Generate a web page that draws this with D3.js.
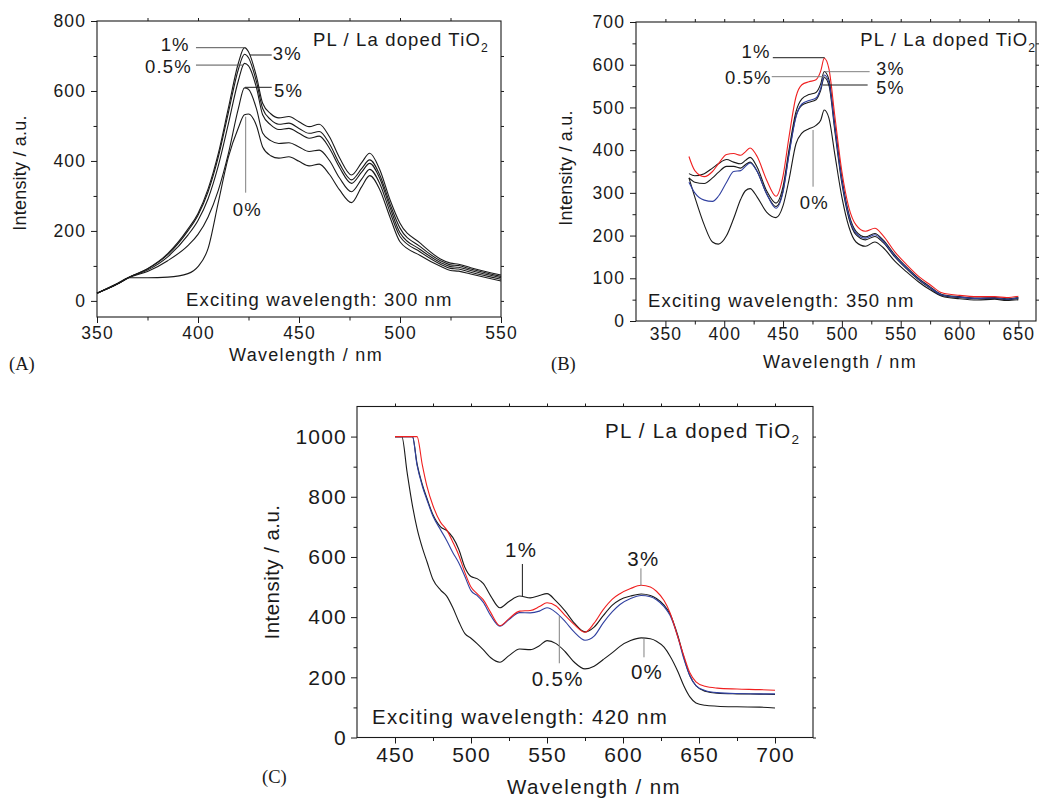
<!DOCTYPE html>
<html>
<head>
<meta charset="utf-8">
<script src="https://cdn.jsdelivr.net/npm/d3@7"></script>
<style>
  body { margin: 0; background: #fff; }
  svg text { font-family: "Liberation Sans", Arial, Helvetica, sans-serif; fill: #1a1a1a; }
</style>
</head>
<body>
<svg id="fig" width="1042" height="798"></svg>
<script>
// ---- Panel (A) : exciting wavelength 300 nm ----
var wlA = [350, 360, 366, 375, 385, 395, 400, 405, 410, 415, 420, 423, 425, 429, 432, 436, 440, 445, 450, 455, 460, 465, 470, 476, 481, 485, 490, 495, 500, 510, 520, 525, 529, 535, 550];
var a1  = [22, 48, 68, 92, 135, 205, 250, 320, 420, 550, 680, 724, 712, 640, 565, 535, 523, 527, 512, 498, 505, 470, 410, 360, 395, 422, 375, 290, 222, 165, 120, 108, 105, 95, 74];
var a3  = [22, 48, 68, 91, 132, 200, 245, 312, 410, 537, 662, 705, 695, 625, 550, 518, 505, 508, 493, 479, 484, 450, 393, 346, 378, 403, 360, 278, 208, 155, 115, 103, 101, 91, 70];
var a05 = [22, 48, 68, 88, 126, 188, 230, 292, 385, 505, 630, 679, 672, 608, 532, 503, 490, 493, 479, 465, 471, 437, 382, 336, 368, 393, 350, 268, 195, 147, 110, 98, 96, 87, 66];
var a5  = [22, 48, 67, 84, 115, 158, 190, 240, 315, 420, 550, 609, 605, 548, 480, 458, 450, 452, 440, 427, 431, 402, 352, 312, 348, 376, 335, 255, 184, 140, 105, 93, 91, 82, 62];
var a0  = [22, 50, 66, 66, 68, 78, 98, 150, 280, 410, 495, 532, 534, 500, 440, 415, 408, 412, 399, 386, 391, 362, 318, 281, 326, 358, 318, 240, 169, 130, 99, 87, 85, 77, 57];

// ---- Panel (B) : exciting wavelength 350 nm ----
var wlB = [370, 375, 383, 390, 395, 402, 408, 414, 418, 422, 428, 436, 444, 450, 455, 461, 466, 472, 478, 482, 485, 489, 494, 500, 506, 512, 520, 528, 535, 545, 555, 565, 575, 585, 600, 615, 630, 640, 650];
var b1  = [385, 352, 338, 350, 368, 390, 392, 388, 396, 405, 385, 330, 292, 340, 430, 525, 553, 560, 565, 585, 615, 590, 480, 350, 265, 225, 210, 217, 200, 162, 132, 105, 85, 66, 60, 57, 57, 55, 58];
var b3  = [345, 340, 345, 358, 368, 378, 372, 368, 376, 383, 360, 305, 276, 315, 400, 490, 520, 530, 535, 555, 584, 565, 460, 335, 250, 210, 197, 205, 190, 155, 126, 100, 80, 62, 57, 54, 55, 52, 55];
var b05 = [325, 300, 283, 280, 292, 325, 350, 352, 362, 370, 350, 298, 264, 302, 388, 478, 508, 516, 522, 545, 576, 558, 452, 328, 245, 206, 194, 202, 187, 152, 124, 98, 78, 61, 56, 53, 54, 51, 54];
var b5  = [335, 325, 322, 335, 348, 362, 362, 358, 366, 372, 350, 298, 268, 305, 392, 480, 505, 512, 518, 540, 570, 552, 445, 322, 240, 202, 190, 198, 184, 150, 122, 97, 77, 60, 55, 52, 53, 50, 53];
var b0  = [335, 290, 225, 185, 180, 200, 240, 285, 305, 310, 290, 255, 242, 270, 330, 415, 440, 450, 458, 470, 494, 475, 390, 290, 220, 185, 175, 185, 172, 140, 115, 92, 73, 58, 52, 49, 51, 48, 50];

// ---- Panel (C) : exciting wavelength 420 nm ----
var wlC = [450, 454.5, 458, 461.5, 464.5, 468, 471, 475, 480, 484, 488, 492, 496, 500, 504, 508, 513, 519, 525, 532, 539, 545, 550, 556, 562, 568, 575, 581, 587, 593, 598, 605, 612, 618, 622, 627, 631, 636, 640, 644, 648, 654, 662, 675, 690, 700];
var c0  = [1000, 1000, 880, 770, 695, 630, 585, 525, 490, 470, 432, 385, 345, 330, 312, 292, 265, 250, 272, 294, 292, 305, 322, 312, 285, 250, 228, 237, 259, 282, 303, 322, 331, 328, 320, 300, 270, 220, 172, 135, 115, 107, 104, 102, 101, 98];
var c05 = [1000, 1000, 1000, 1000, 905, 835, 790, 735, 690, 655, 615, 580, 535, 488, 472, 450, 405, 370, 392, 415, 414, 420, 431, 415, 385, 350, 323, 337, 381, 418, 442, 462, 472, 468, 458, 435, 405, 335, 262, 205, 172, 156, 149, 146, 145, 145];
var c1  = [1000, 1000, 1000, 1000, 910, 840, 795, 740, 700, 688, 665, 625, 565, 535, 528, 512, 470, 431, 452, 470, 464, 472, 478, 453, 420, 380, 351, 367, 405, 440, 458, 470, 477, 472, 462, 440, 410, 340, 267, 205, 172, 154, 147, 145, 144, 143];
var c3  = [1000, 1000, 1000, 1000, 1000, 905, 835, 770, 715, 690, 650, 605, 548, 500, 478, 458, 415, 372, 395, 420, 422, 435, 448, 437, 405, 375, 350, 380, 425, 460, 478, 495, 506, 500, 486, 455, 414, 335, 272, 215, 185, 170, 164, 161, 159, 157];

// tick values
var xTicksA = [350, 400, 450, 500, 550], yTicksA = [0, 200, 400, 600, 800];
var xTicksB = [350, 400, 450, 500, 550, 600, 650], yTicksB = [0, 100, 200, 300, 400, 500, 600, 700];
var xTicksC = [450, 500, 550, 600, 650, 700], yTicksC = [0, 200, 400, 600, 800, 1000];

var INK = "#1a1a1a", RED = "#f02020", BLUE = "#3040a0", GREY = "#808080";
var svg = d3.select("#fig");

function drawPanel(p) {
  var x = d3.scaleLinear().domain(p.xDomain).range([p.left, p.right]);
  var y = d3.scaleLinear().domain(p.yDomain).range([p.bottom, p.top]);
  var g = svg.append("g");

  function clean(sel) {
    sel.select(".domain").remove();
    sel.selectAll("line").attr("stroke", INK);
  }
  function labels(sel) {
    sel.selectAll("text")
      .attr("font-size", p.tickFont)
      .attr("letter-spacing", p.tickLs)
      .attr("fill", INK);
  }

  // minor ticks
  g.append("g").attr("transform", "translate(0," + p.bottom + ")")
    .call(d3.axisBottom(x).tickValues(p.xMinor).tickSize(3.5).tickFormat(""))
    .call(clean);
  g.append("g").attr("transform", "translate(" + p.left + ",0)")
    .call(d3.axisLeft(y).tickValues(p.yMinor).tickSize(3.5).tickFormat(""))
    .call(clean);
  // mirror ticks
  g.append("g").attr("transform", "translate(0," + p.top + ")")
    .call(d3.axisTop(x).tickValues(p.xMirror).tickSize(3).tickFormat(""))
    .call(clean);
  g.append("g").attr("transform", "translate(" + p.right + ",0)")
    .call(d3.axisRight(y).tickValues(p.yMirror).tickSize(3).tickFormat(""))
    .call(clean);
  // major ticks with labels
  g.append("g").attr("transform", "translate(0," + p.bottom + ")")
    .call(d3.axisBottom(x).tickValues(p.xTicks).tickSize(6).tickPadding(p.xPad).tickFormat(d3.format("d")))
    .call(clean).call(labels);
  g.append("g").attr("transform", "translate(" + p.left + ",0)")
    .call(d3.axisLeft(y).tickValues(p.yTicks).tickSize(6).tickPadding(p.yPad).tickFormat(d3.format("d")))
    .call(clean).call(labels);

  // frame
  g.append("rect")
    .attr("x", p.left).attr("y", p.top)
    .attr("width", p.right - p.left).attr("height", p.bottom - p.top)
    .attr("fill", "none").attr("stroke", INK).attr("stroke-width", 1.1);

  // spectra
  var line = d3.line()
    .x(function(d) { return x(d[0]); })
    .y(function(d) { return y(d[1]); })
    .curve(d3.curveMonotoneX);
  p.series.forEach(function(s) {
    g.append("path")
      .datum(d3.zip(p.wl, s.values))
      .attr("fill", "none")
      .attr("stroke", s.color)
      .attr("stroke-width", 1.1)
      .attr("stroke-linejoin", "round")
      .attr("d", line);
  });

  // leader lines and labels
  p.notes.forEach(function(n) {
    if (n.line) {
      g.append("line")
        .attr("x1", x(n.line[0])).attr("y1", y(n.line[1]))
        .attr("x2", x(n.line[2])).attr("y2", y(n.line[3]))
        .attr("stroke", n.lineColor || INK).attr("stroke-width", 1);
    }
    g.append("text")
      .attr("x", x(n.at[0])).attr("y", y(n.at[1]))
      .attr("font-size", n.size || p.noteFont).attr("letter-spacing", p.noteLs)
      .text(n.text);
  });

  // "PL / La doped TiO2"
  var t = g.append("text")
    .attr("x", x(p.title[0])).attr("y", y(p.title[1]))
    .attr("font-size", p.noteFont).attr("letter-spacing", p.noteLs);
  t.append("tspan").text("PL / La doped TiO");
  t.append("tspan").attr("dy", p.noteFont * 0.3).attr("font-size", p.noteFont * 0.66).text("2");

  g.append("text")
    .attr("x", x(p.excite[0])).attr("y", y(p.excite[1]))
    .attr("font-size", p.noteFont).attr("letter-spacing", p.noteLs)
    .text(p.exciteText);

  // axis titles
  g.append("text")
    .attr("x", p.xTitle[0]).attr("y", p.xTitle[1])
    .attr("text-anchor", "middle")
    .attr("font-size", p.titleFont).attr("letter-spacing", p.titleLs)
    .text("Wavelength / nm");
  g.append("text")
    .attr("transform", "translate(" + p.yTitle[0] + "," + p.yTitle[1] + ") rotate(-90)")
    .attr("text-anchor", "middle")
    .attr("font-size", p.titleFont).attr("letter-spacing", p.yTitleLs)
    .text("Intensity / a.u.");

  // panel letter
  g.append("text")
    .attr("x", p.tag[0]).attr("y", p.tag[1])
    .style("font-family", '"Liberation Serif", "Times New Roman", serif')
    .attr("font-size", 18.5)
    .text(p.tagText);
}

drawPanel({
  left: 97, right: 501, top: 21, bottom: 317,
  xDomain: [350, 550], yDomain: [-46, 800],
  xTicks: xTicksA, yTicks: yTicksA,
  xMinor: [375, 425, 475, 525], yMinor: [100, 300, 500, 700],
  xMirror: [375, 400, 425, 450, 475, 500, 525], yMirror: [0, 100, 200, 300, 400, 500, 600, 700],
  xPad: 4, yPad: 5, tickFont: 17.5, tickLs: 1.1,
  noteFont: 18.5, noteLs: 1.15, titleFont: 18, titleLs: 1.3, yTitleLs: 0.2,
  wl: wlA,
  series: [
    { values: a0, color: INK }, { values: a5, color: INK }, { values: a05, color: INK },
    { values: a3, color: INK }, { values: a1, color: INK }
  ],
  notes: [
    { text: "1%", at: [381.5, 715], line: [399, 723.7, 423.3, 723.7], lineColor: "#555" },
    { text: "3%", at: [437, 688.5], line: [425.7, 702.8, 436.5, 702.8] },
    { text: "0.5%", at: [373.8, 650.5], line: [399, 674, 422.4, 674], lineColor: "#555" },
    { text: "5%", at: [437.6, 583.6], line: [423.3, 610.5, 436.5, 610.5] },
    { text: "0%", at: [417.2, 243.5], line: [423.6, 526.5, 423.6, 309.3], lineColor: GREY }
  ],
  title: [456.9, 728.6],
  excite: [394.1, -14.6], exciteText: "Exciting wavelength: 300 nm",
  xTitle: [306, 361], yTitle: [26, 173],
  tag: [9, 370], tagText: "(A)"
});

drawPanel({
  left: 636, right: 1036, top: 22, bottom: 321,
  xDomain: [325, 665], yDomain: [0, 700],
  xTicks: xTicksB, yTicks: yTicksB,
  xMinor: [375, 425, 475, 525, 575, 625], yMinor: [50, 150, 250, 350, 450, 550, 650],
  xMirror: [350, 375, 400, 425, 450, 475, 500, 525, 550, 575, 600, 625, 650],
  yMirror: [50, 100, 150, 200, 250, 300, 350, 400, 450, 500, 550, 600, 650],
  xPad: 1, yPad: 5, tickFont: 17.5, tickLs: 1.1,
  noteFont: 18.5, noteLs: 1.15, titleFont: 18, titleLs: 1.3, yTitleLs: 0.2,
  wl: wlB,
  series: [
    { values: b0, color: INK }, { values: b5, color: INK }, { values: b3, color: INK },
    { values: b05, color: BLUE }, { values: b1, color: RED }
  ],
  notes: [
    { text: "1%", at: [414.7, 615], line: [441.3, 616.4, 485.4, 616.4] },
    { text: "0.5%", at: [400.6, 555], line: [440.4, 572, 485.4, 572], lineColor: GREY },
    { text: "3%", at: [529.3, 577], line: [485.4, 583.7, 523.6, 583.7], lineColor: GREY, size: 18 },
    { text: "5%", at: [529.3, 531], line: [483.7, 552.5, 521.9, 552.5], size: 18 },
    { text: "0%", at: [464.2, 262.2], line: [475.5, 447.2, 475.5, 314.4], lineColor: GREY }
  ],
  title: [515.6, 643.8],
  excite: [335.2, 33.5], exciteText: "Exciting wavelength: 350 nm",
  xTitle: [840, 368], yTitle: [572, 168],
  tag: [551, 370], tagText: "(B)"
});

drawPanel({
  left: 357, right: 813, top: 406.5, bottom: 737.5,
  xDomain: [425, 725], yDomain: [0, 1100],
  xTicks: xTicksC, yTicks: yTicksC,
  xMinor: [475, 525, 575, 625, 675], yMinor: [100, 300, 500, 700, 900],
  xMirror: [450, 475, 500, 525, 550, 575, 600, 625, 650, 675, 700],
  yMirror: [0, 100, 200, 300, 400, 500, 600, 700, 800, 900, 1000],
  xPad: 4, yPad: 4, tickFont: 21, tickLs: 1.2,
  noteFont: 20.5, noteLs: 1.3, titleFont: 20.5, titleLs: 1.4, yTitleLs: 0.45,
  wl: wlC,
  series: [
    { values: c0, color: INK }, { values: c1, color: INK },
    { values: c05, color: BLUE }, { values: c3, color: RED }
  ],
  notes: [
    { text: "1%", at: [522.4, 598.9], line: [533.8, 576.6, 533.8, 470.2] },
    { text: "0.5%", at: [540, 172.1], line: [558.1, 403.8, 558.1, 246.6], lineColor: GREY },
    { text: "3%", at: [602.8, 569.9], line: [611.8, 562.3, 611.8, 504.5], lineColor: GREY },
    { text: "0%", at: [605.2, 193.4], line: [613.8, 329.7, 613.8, 266.5], lineColor: GREY }
  ],
  title: [588.1, 994.3],
  excite: [434.9, 44.9], exciteText: "Exciting wavelength: 420 nm",
  xTitle: [594, 794], yTitle: [279, 572],
  tag: [262, 783], tagText: "(C)"
});
</script>
</body>
</html>
